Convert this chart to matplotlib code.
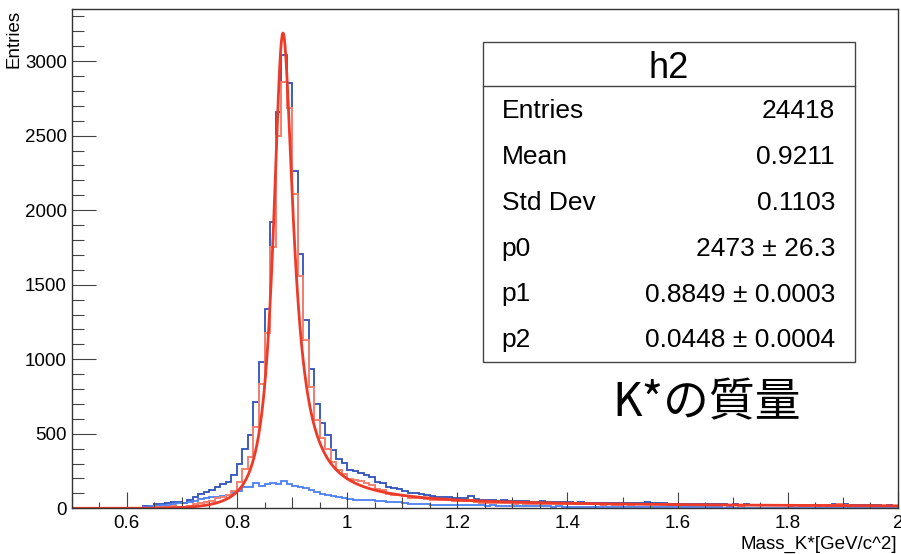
import numpy as np
import matplotlib
matplotlib.use("Agg")
import matplotlib.pyplot as plt
from matplotlib.patches import Rectangle
from matplotlib.lines import Line2D
from matplotlib.ticker import MultipleLocator, FuncFormatter

plt.rcParams['font.family'] = ['Liberation Sans', 'DejaVu Sans']

W, H = 901, 554

# 150 bins of 0.01 GeV between 0.5 and 2.0, first 13 bins (below K pi threshold) empty
x_lo, x_hi, n_bins = 0.5, 2.0, 150
n_empty = 13

# K pi candidates, all (0.63 .. 1.99)
total_counts = [
    15, 15, 28, 28, 37, 43, 43, 38, 56, 74,
    95, 111, 122, 145, 162, 178, 223, 296, 401, 490,
    713, 981, 1338, 1924, 2660, 3043, 2853, 2263, 1706, 1266,
    936, 702, 569, 490, 390, 334, 301, 258, 248, 236,
    226, 212, 178, 168, 140, 136, 128, 118, 102, 100,
    96, 90, 80, 78, 76, 78, 72, 72, 70, 80,
    60, 58, 56, 54, 52, 54, 50, 48, 50, 46,
    45, 44, 46, 42, 44, 40, 42, 40, 38, 40,
    37, 36, 38, 35, 36, 34, 35, 36, 34, 38,
    36, 40, 38, 34, 36, 32, 30, 31, 29, 32,
    30, 28, 27, 28, 26, 27, 25, 26, 24, 27,
    25, 24, 25, 23, 24, 23, 25, 22, 23, 22,
    21, 22, 21, 22, 21, 26, 32, 28, 21, 20,
    21, 19, 20, 19, 18, 19, 18,
]

# combinatorial background (0.63 .. 1.99)
bkg_counts = [
    12, 15, 18, 20, 25, 28, 33, 35, 40, 48,
    62, 70, 75, 78, 85, 89, 105, 118, 140, 145,
    170, 150, 162, 172, 162, 180, 165, 152, 145, 138,
    122, 112, 98, 90, 80, 75, 72, 62, 58, 56,
    56, 55, 48, 46, 45, 44, 42, 34, 30, 29,
    29, 28, 24, 22, 23, 22, 21, 22, 20, 21,
    19, 20, 18, 19, 17, 18, 16, 16, 15, 14,
    15, 13, 14, 13, 12, 13, 12, 12, 11, 12,
    11, 10, 11, 10, 10, 9, 10, 9, 9, 10,
    9, 8, 9, 8, 8, 7, 8, 7, 7, 8,
    7, 6, 7, 6, 6, 5, 6, 5, 6, 5,
    5, 4, 5, 4, 5, 4, 4, 5, 4, 4,
    4, 3, 4, 3, 4, 3, 5, 4, 3, 3,
    3, 2, 3, 3, 2, 3, 2,
]

# stats of h2 and fit parameters
n_entries = 24418
h_mean = 0.9211
h_std = 0.1103
p0, p0_err = 2473, 26.3
p1, p1_err = 0.8849, 0.0003
p2, p2_err = 0.0448, 0.0004
fit_peak = 3177

m_k, m_pi = 0.4937, 0.1396


def momentum(m):
    q2 = (m**2 - (m_k + m_pi)**2) * (m**2 - (m_k - m_pi)**2) / (4 * m**2)
    return np.sqrt(np.clip(q2, 0, None))


def bw_pwave(m, mass, width):
    # relativistic Breit-Wigner with mass dependent width (p-wave)
    gam = width * (momentum(m) / momentum(mass))**3 * mass / m
    return m * mass * gam / ((m**2 - mass**2)**2 + mass**2 * gam**2)


edges = np.linspace(x_lo, x_hi, n_bins + 1)
h_all = np.concatenate([np.zeros(n_empty), total_counts])
h_bkg = np.concatenate([np.zeros(n_empty), bkg_counts])
h2 = h_all - h_bkg

mm = np.linspace(x_lo, x_hi, 2000)
fit = fit_peak * p2 * bw_pwave(mm, p1, p2)

fig = plt.figure(figsize=(W / 100, H / 100), dpi=100)
ax = fig.add_axes([71.7 / W, 1 - 508.3 / H, (898 - 71.7) / W, (508.3 - 9.3) / H])

ax.stairs(h_all, edges, color='#2f50b8', lw=1.3)
ax.stairs(h_bkg, edges, color='#4a7ff2', lw=1.3)
ax.stairs(h2, edges, color='#f3806f', lw=1.4)
ax.plot(mm, fit, color='#ee3a28', lw=2.0)

ax.set_xlim(x_lo, x_hi)
ax.set_ylim(0, 1.05 * fit.max())

for s in ax.spines.values():
    s.set_color('#333333')
    s.set_linewidth(1.0)

# ROOT-like ticks
ax.xaxis.set_major_locator(MultipleLocator(0.1))
ax.xaxis.set_minor_locator(MultipleLocator(0.05))
ax.xaxis.set_major_formatter(FuncFormatter(
    lambda v, pos: ('%g' % round(v, 1)) if (round(v * 10) % 2 == 0 and v > 0.55) else ''))
ax.yaxis.set_major_locator(MultipleLocator(500))
ax.yaxis.set_minor_locator(MultipleLocator(100))
ax.tick_params(which='both', direction='in', top=False, right=False,
               color='#444444', width=0.8, labelsize=13.5)
ax.tick_params(axis='x', which='major', length=8, pad=4.5)
ax.tick_params(axis='x', which='minor', length=4.3)
ax.tick_params(axis='y', which='major', length=17, pad=3.4)
ax.tick_params(axis='y', which='minor', length=8.6)
for tick, loc in zip(ax.xaxis.get_major_ticks(), ax.xaxis.get_majorticklocs()):
    tick.tick1line.set_markersize(11.5 if round(loc * 10) % 2 == 0 else 8)

fig.text(14.5 / W, 1 - 10 / H, 'Entries', rotation=90, ha='center', va='top', fontsize=13.5)
fig.text(897 / W, 1 - 549 / H, 'Mass_K*[GeV/c^2]', ha='right', va='baseline', fontsize=13.5)

# stats box
bx0, bx1, by0, by1 = 483.3, 855, 41.7, 361.7
fig.add_artist(Rectangle((bx0 / W, 1 - by1 / H), (bx1 - bx0) / W, (by1 - by0) / H,
                         transform=fig.transFigure, facecolor='white',
                         edgecolor='#444444', lw=1.0, zorder=5))
fig.add_artist(Line2D([bx0 / W, bx1 / W], [1 - 86 / H, 1 - 86 / H],
                      transform=fig.transFigure, color='#444444', lw=1.0, zorder=6))
fig.text((bx0 + bx1) / 2 / W, 1 - 78.3 / H, 'h2', ha='center', va='baseline',
         fontsize=26, zorder=7)

rows = [
    ('Entries', '%d' % n_entries),
    ('Mean', '%.4f' % h_mean),
    ('Std Dev', '%.4f' % h_std),
    ('p0', '%d ± %.1f' % (p0, p0_err)),
    ('p1', '%.4f ± %.4f' % (p1, p1_err)),
    ('p2', '%.4f ± %.4f' % (p2, p2_err)),
]
for i, (name, val) in enumerate(rows):
    yb = 1 - (118.3 + i * 45.8) / H
    fig.text(501.7 / W, yb, name, ha='left', va='baseline', fontsize=19, zorder=7)
    fig.text(835 / W, yb, val, ha='right', va='baseline', fontsize=19, zorder=7)

fig.text(612 / W, 1 - 403 / H, 'K*の質量', ha='left', va='center', fontsize=33,
         family=['Noto Sans CJK JP', 'DejaVu Sans'], zorder=7)

fig.savefig('out.png', dpi=100)
